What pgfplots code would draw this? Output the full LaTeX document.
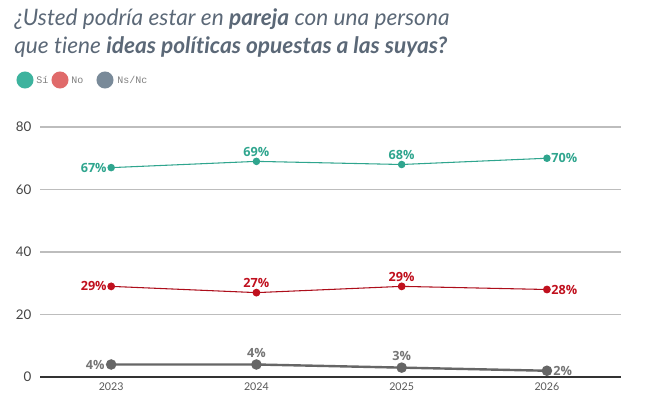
\documentclass[border=0pt]{standalone}
\usepackage{fontspec}
\usepackage{pgfplots}
\pgfplotsset{compat=1.18}
\setmainfont{Lato}[Ligatures={NoCommon}]
\newfontfamily\labfont{Open Sans}
\newfontfamily\legfont{Liberation Mono}
\definecolor{titlec}{HTML}{5B6877}
\definecolor{sic}{HTML}{2FA58E}
\definecolor{sileg}{HTML}{3DB39E}
\definecolor{noc}{HTML}{C0101E}
\definecolor{noleg}{HTML}{E06A6A}
\definecolor{nsc}{HTML}{666666}
\definecolor{nsleg}{HTML}{798A99}
\definecolor{gridc}{HTML}{BDBDBD}
\definecolor{tickc}{HTML}{444444}
\begin{document}
\begin{tikzpicture}
\useasboundingbox (0pt,0pt) rectangle (492pt,304.5pt);
% title
\node[anchor=base west,inner sep=0pt,text=titlec,font=\fontsize{17}{20}\selectfont\itshape] at (10.5pt,285pt) {¿Usted podría estar en \textbf{pareja} con una persona};
\node[anchor=base west,inner sep=0pt,text=titlec,font=\fontsize{17}{20}\selectfont\itshape] at (10.5pt,264pt) {que tiene \textbf{ideas políticas opuestas a las suyas?}};
% legend
\fill[sileg] (18.75pt,244.5pt) circle (6.4pt);
\node[anchor=west,inner sep=0pt,text=gray,font=\legfont\fontsize{7.5}{9}\selectfont] at (27pt,244.5pt) {Sí};
\fill[noleg] (45pt,244.5pt) circle (6.4pt);
\node[anchor=west,inner sep=0pt,text=gray,font=\legfont\fontsize{7.5}{9}\selectfont] at (53.25pt,244.5pt) {No};
\fill[nsleg] (78.75pt,244.5pt) circle (6.4pt);
\node[anchor=west,inner sep=0pt,text=gray,font=\legfont\fontsize{7.5}{9}\selectfont] at (87.75pt,244.5pt) {Ns/Nc};
\begin{axis}[
  at={(30pt,21.75pt)}, anchor=south west,
  scale only axis, width=435.75pt, height=187.5pt,
  xmin=2022.51, xmax=2026.51, ymin=0, ymax=80,
  axis line style={draw=none},
  xtick={2023,2024,2025,2026},
  xticklabels={2023,2024,2025,2026},
  ytick={0,20,40,60,80},
  ymajorgrids, grid style={gridc, line width=1.1pt},
  major tick length=0pt,
  tick label style={font=\fontsize{10}{12}\selectfont, text=tickc},
  xticklabel style={font=\fontsize{8}{10}\selectfont, text=tickc!90},
  yticklabel style={xshift=-3pt},
  xticklabel style={yshift=-1pt},
  /pgf/number format/assume math mode=true,
  clip=false,
  nodes near coords={\pgfmathprintnumber{\pgfplotspointmeta}\%},
  point meta=y,
  visualization depends on={value \thisrow{pos} \as \pos},
  every node near coord/.append style={anchor=\pos, inner sep=3pt, font=\labfont\bfseries\fontsize{9.5}{11}\selectfont},
]
\draw[black!80, line width=0.9pt] (axis cs:2022.51,0) -- (axis cs:2026.51,0);
\addplot[sic, line width=0.8pt, mark=*, mark size=2.4pt, every node near coord/.append style={text=sic}] table {
x y pos
2023 67 east
2024 69 south
2025 68 south
2026 70 west
};
\addplot[noc!90!black, line width=0.8pt, mark=*, mark options={fill=noc, draw=noc}, mark size=2.5pt, every node near coord/.append style={text=noc}] table {
x y pos
2023 29 east
2024 27 south
2025 29 south
2026 28 west
};
\addplot[nsc, line width=1.8pt, mark=*, mark size=3pt, every node near coord/.append style={text=nsc!90, inner sep=4pt}] table {
x y pos
2023 4 {east}
2024 4 south
2025 3 south
2026 2 west
};
\end{axis}
\end{tikzpicture}
\end{document}
